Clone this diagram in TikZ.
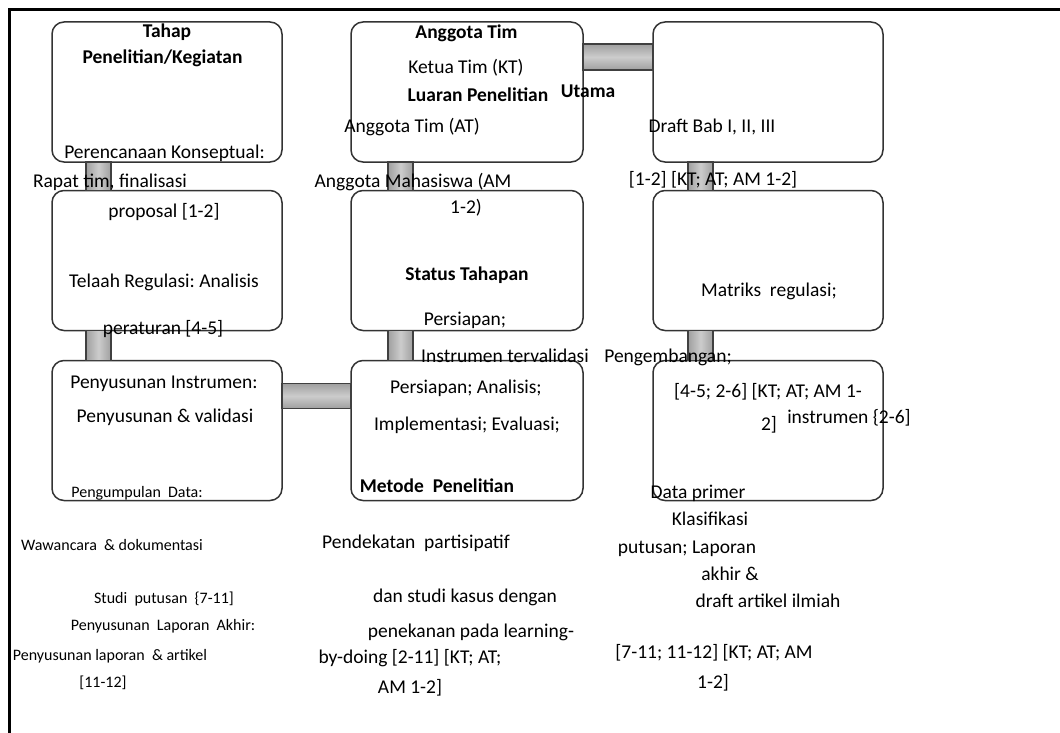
\documentclass[tikz,border=0pt]{standalone}
\usepackage{fontspec}
\setmainfont{Carlito}
\usetikzlibrary{calc}
\frenchspacing
\tikzset{
  box/.style={draw=black!80, line width=1.5pt, fill=white, rounded corners=12pt, minimum width=230pt, minimum height=140pt, inner sep=0pt, outer sep=0pt},
  vbar/.style={draw=black!75, line width=1.2pt, left color=gray!75, right color=gray!75, middle color=gray!40},
  hbar/.style={draw=black!75, line width=1.2pt, top color=gray!75, bottom color=gray!75, middle color=gray!40},
  tx/.style={anchor=base, inner sep=0pt, font=\fontsize{19.5}{22}\selectfont},
  tb/.style={anchor=base, inner sep=0pt, font=\fontsize{19.5}{22}\selectfont\bfseries},
  ts/.style={anchor=base, inner sep=0pt, font=\fontsize{16}{19}\selectfont},
}
\begin{document}
\begin{tikzpicture}[x=1pt, y=-1pt]
\useasboundingbox (0,0) rectangle (1060,733);
\draw[line width=3pt] (1060,9.5) -- (9.5,9.5) -- (9.5,733);
% boxes
\node[box] (b11) at (167,92) {};
\node[box] (b21) at (167,260.5) {};
\node[box] (b31) at (167,430.5) {};
\node[box, minimum width=232pt] (b12) at (467,92) {};
\node[box, minimum width=232pt] (b22) at (467,260.5) {};
\node[box, minimum width=232pt] (b32) at (467,430.5) {};
\node[box] (b13) at (768,92) {};
\node[box] (b23) at (768,260.5) {};
\node[box] (b33) at (768,430.5) {};
% connectors
\draw[vbar] ($(b11.south west)+(34,0)$) rectangle ($(b21.north west)+(59,0)$);
\draw[vbar] ($(b21.south west)+(34,0)$) rectangle ($(b31.north west)+(59,0)$);
\draw[vbar] ($(b12.south west)+(37,0)$) rectangle ($(b22.north west)+(62,0)$);
\draw[vbar] ($(b22.south west)+(37,0)$) rectangle ($(b32.north west)+(62,0)$);
\draw[vbar] ($(b13.south west)+(35,0)$) rectangle ($(b23.north west)+(60,0)$);
\draw[vbar] ($(b23.south west)+(35,0)$) rectangle ($(b33.north west)+(60,0)$);
\draw[hbar] ($(b12.north east)+(0,22)$) rectangle ($(b13.north west)+(0,48)$);
\draw[hbar] ($(b31.north east)+(0,23)$) rectangle ($(b32.north west)+(0,48)$);
% column 1 texts
\node[tb] (t1) at (167,37.5) {Tahap};
\node[tb] (t2) at (162.5,64) {Penelitian/Kegiatan};
\node[tx] (t3) at (164.5,158) {Perencanaan Konseptual:};
\node[tx] (t4) at (110,187) {Rapat tim, finalisasi};
\node[tx] (t5) at (164,217) {proposal [1-2]};
\node[tx] (t6) at (164,287) {Telaah Regulasi: Analisis};
\node[tx] (t7) at (163,334) {peraturan [4-5]};
\node[tx] (t8) at (164,388) {Penyusunan Instrumen:};
\node[tx] (t9) at (165,422) {Penyusunan \& validasi};
\node[ts] (t10) at (137,497) {Pengumpulan\ \ Data:};
\node[ts] (t11) at (112,550) {Wawancara\ \ \& dokumentasi};
\node[ts] (t12) at (164,603) {Studi\ \ putusan\ \ \{7-11]};
\node[ts] (t13) at (163,630) {Penyusunan\ \ Laporan\ \ Akhir:};
\node[ts] (t14) at (110,660) {Penyusunan laporan\ \ \& artikel};
\node[ts] (t15) at (103,687) {[11-12]};
% column 2 texts
\node[tb] (t16) at (466.5,39) {Anggota Tim};
\node[tx] (t17) at (466,74) {Ketua Tim (KT)};
\node[tb] (t18) at (478,102) {Luaran Penelitian};
\node[tb] (t19) at (588,98) {Utama};
\node[tx] (t20) at (412,132) {Anggota Tim (AT)};
\node[tx] (t21) at (413,187) {Anggota Mahasiswa (AM};
\node[tx] (t22) at (466,213) {1-2)};
\node[tb] (t23) at (467,280) {Status Tahapan};
\node[tx] (t24) at (465,325) {Persiapan;};
\node[tx] (t25) at (505,362) {Instrumen tervalidasi};
\node[tx] (t26) at (466,393) {Persiapan; Analisis;};
\node[tx] (t27) at (467,430) {Implementasi; Evaluasi;};
\node[tb] (t28) at (437,492) {Metode\ \ Penelitian};
\node[tx] (t29) at (416,548) {Pendekatan\ \ partisipatif};
\node[tx] (t30) at (465,602) {dan studi kasus dengan};
\node[tx] (t31) at (471,637) {penekanan pada learning-};
\node[tx] (t32) at (410,663) {by-doing [2-11] [KT; AT;};
\node[tx] (t33) at (410,693) {AM 1-2]};
% column 3 texts
\node[tx] (t34) at (712,132) {Draft Bab I, II, III};
\node[tx] (t35) at (713,185) {[1-2] [KT; AT; AM 1-2]};
\node[tx] (t36) at (769,296) {Matriks\ \ regulasi;};
\node[tx] (t37) at (668,362) {Pengembangan;};
\node[tx] (t38) at (768,397) {[4-5; 2-6] [KT; AT; AM 1-};
\node[tx] (t39) at (769,430) {2]};
\node[tx] (t40) at (849,423) {instrumen \{2-6]};
\node[tx] (t41) at (698,498) {Data primer};
\node[tx] (t42) at (710,525) {Klasifikasi};
\node[tx] (t43) at (687,553) {putusan; Laporan};
\node[tx] (t44) at (730,580) {akhir \&};
\node[tx] (t45) at (768,607) {draft artikel ilmiah};
\node[tx] (t46) at (714,658) {[7-11; 11-12] [KT; AT; AM};
\node[tx] (t47) at (713,688) {1-2]};
\end{tikzpicture}
\end{document}
